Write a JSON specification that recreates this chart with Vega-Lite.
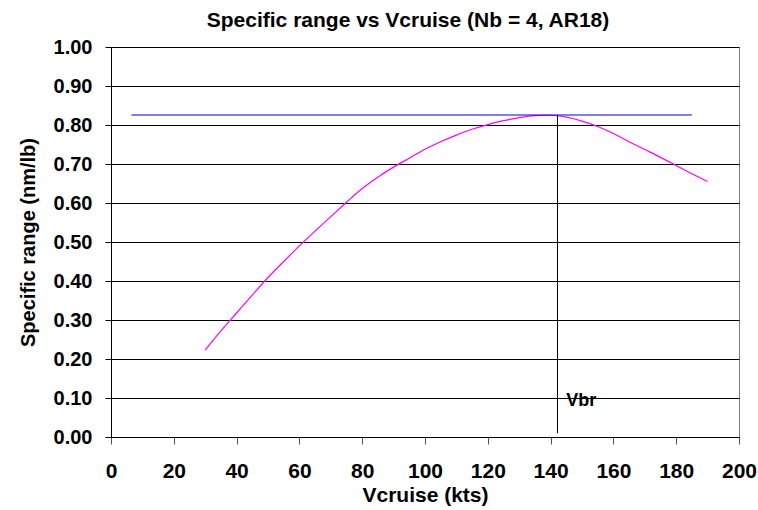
{
  "$schema": "https://vega.github.io/schema/vega-lite/v6.json",
  "width": 628,
  "height": 390,
  "autosize": {"type": "none"},
  "padding": {"left": 111, "top": 47, "right": 19, "bottom": 73},
  "background": "white",
  "config": {
    "view": {"stroke": "#808080", "strokeWidth": 1},
    "font": "Liberation Sans"
  },
  "title": {
    "text": "Specific range vs Vcruise (Nb = 4, AR18)",
    "font": "Liberation Sans",
    "fontSize": 21,
    "fontWeight": "bold",
    "color": "black",
    "anchor": "middle",
    "dx": -17,
    "offset": 6
  },
  "encoding": {
    "x": {
      "field": "v", "type": "quantitative",
      "scale": {"domain": [0, 200], "nice": false, "zero": false},
      "axis": {
        "title": "Vcruise (kts)",
        "values": [0, 20, 40, 60, 80, 100, 120, 140, 160, 180, 200],
        "tickCount": 20,
        "labelOverlap": false,
        "labelFlush": false,
        "grid": false,
        "domainColor": "black",
        "tickColor": "#555555",
        "tickSize": 7,
        "labelFontSize": 21,
        "labelFontWeight": "bold",
        "labelColor": "black",
        "labelPadding": 16,
        "labelFont": "Liberation Sans",
        "titleFont": "Liberation Sans",
        "titleFontSize": 21,
        "titleFontWeight": "bold",
        "titleColor": "black",
        "titlePadding": 3
      }
    },
    "y": {
      "field": "sr", "type": "quantitative",
      "scale": {"domain": [0, 1], "nice": false},
      "axis": {
        "title": "Specific range (nm/lb)",
        "values": [0, 0.1, 0.2, 0.3, 0.4, 0.5, 0.6, 0.7, 0.8, 0.9, 1.0],
        "tickCount": 20,
        "labelOverlap": false,
        "labelFlush": false,
        "format": ".2f",
        "grid": true,
        "gridColor": "black",
        "gridOpacity": 1,
        "gridWidth": 1,
        "domainColor": "black",
        "tickColor": "black",
        "tickSize": 6,
        "labelFontSize": 20,
        "labelFontWeight": "bold",
        "labelColor": "black",
        "labelPadding": 13,
        "labelFont": "Liberation Sans",
        "titleFont": "Liberation Sans",
        "titleFontSize": 20,
        "titleFontWeight": "bold",
        "titleColor": "black",
        "titlePadding": 15
      }
    }
  },
  "layer": [
    {
      "data": {"values": [
        {"v": 30, "sr": 0.223}, {"v": 35, "sr": 0.272}, {"v": 40, "sr": 0.318},
        {"v": 45, "sr": 0.364}, {"v": 50, "sr": 0.409}, {"v": 55, "sr": 0.45},
        {"v": 60, "sr": 0.49}, {"v": 65, "sr": 0.528}, {"v": 70, "sr": 0.565},
        {"v": 75, "sr": 0.602}, {"v": 80, "sr": 0.637}, {"v": 86, "sr": 0.672},
        {"v": 90, "sr": 0.692}, {"v": 95, "sr": 0.715}, {"v": 100, "sr": 0.738},
        {"v": 105, "sr": 0.757}, {"v": 110, "sr": 0.774}, {"v": 115, "sr": 0.789},
        {"v": 120, "sr": 0.801}, {"v": 125, "sr": 0.811}, {"v": 130, "sr": 0.819},
        {"v": 135, "sr": 0.824}, {"v": 140, "sr": 0.825}, {"v": 145, "sr": 0.820},
        {"v": 150, "sr": 0.810}, {"v": 155, "sr": 0.796}, {"v": 160, "sr": 0.778},
        {"v": 165, "sr": 0.757}, {"v": 170, "sr": 0.737}, {"v": 175, "sr": 0.717},
        {"v": 180, "sr": 0.696}, {"v": 185, "sr": 0.675}, {"v": 190, "sr": 0.655}
      ]},
      "mark": {"type": "line", "color": "#FF00FF", "strokeWidth": 1.2, "interpolate": "monotone"}
    },
    {
      "data": {"values": [{"v": 6.5, "v2": 185, "sr": 0.8256}]},
      "mark": {"type": "rule", "color": "#0000E6", "strokeWidth": 1.2},
      "encoding": {
        "x2": {"field": "v2"}
      }
    },
    {
      "data": {"values": [{"v": 142.2, "sr": 0.01, "sr2": 0.8256}]},
      "mark": {"type": "rule", "color": "black", "strokeWidth": 1},
      "encoding": {
        "y2": {"field": "sr2"}
      }
    },
    {
      "data": {"values": [{"v": 145, "sr": 0.08, "label": "Vbr"}]},
      "mark": {"type": "text", "align": "left", "baseline": "alphabetic", "fontSize": 18, "fontWeight": "bold", "font": "Liberation Sans", "color": "black"},
      "encoding": {
        "text": {"field": "label"}
      }
    }
  ]
}
